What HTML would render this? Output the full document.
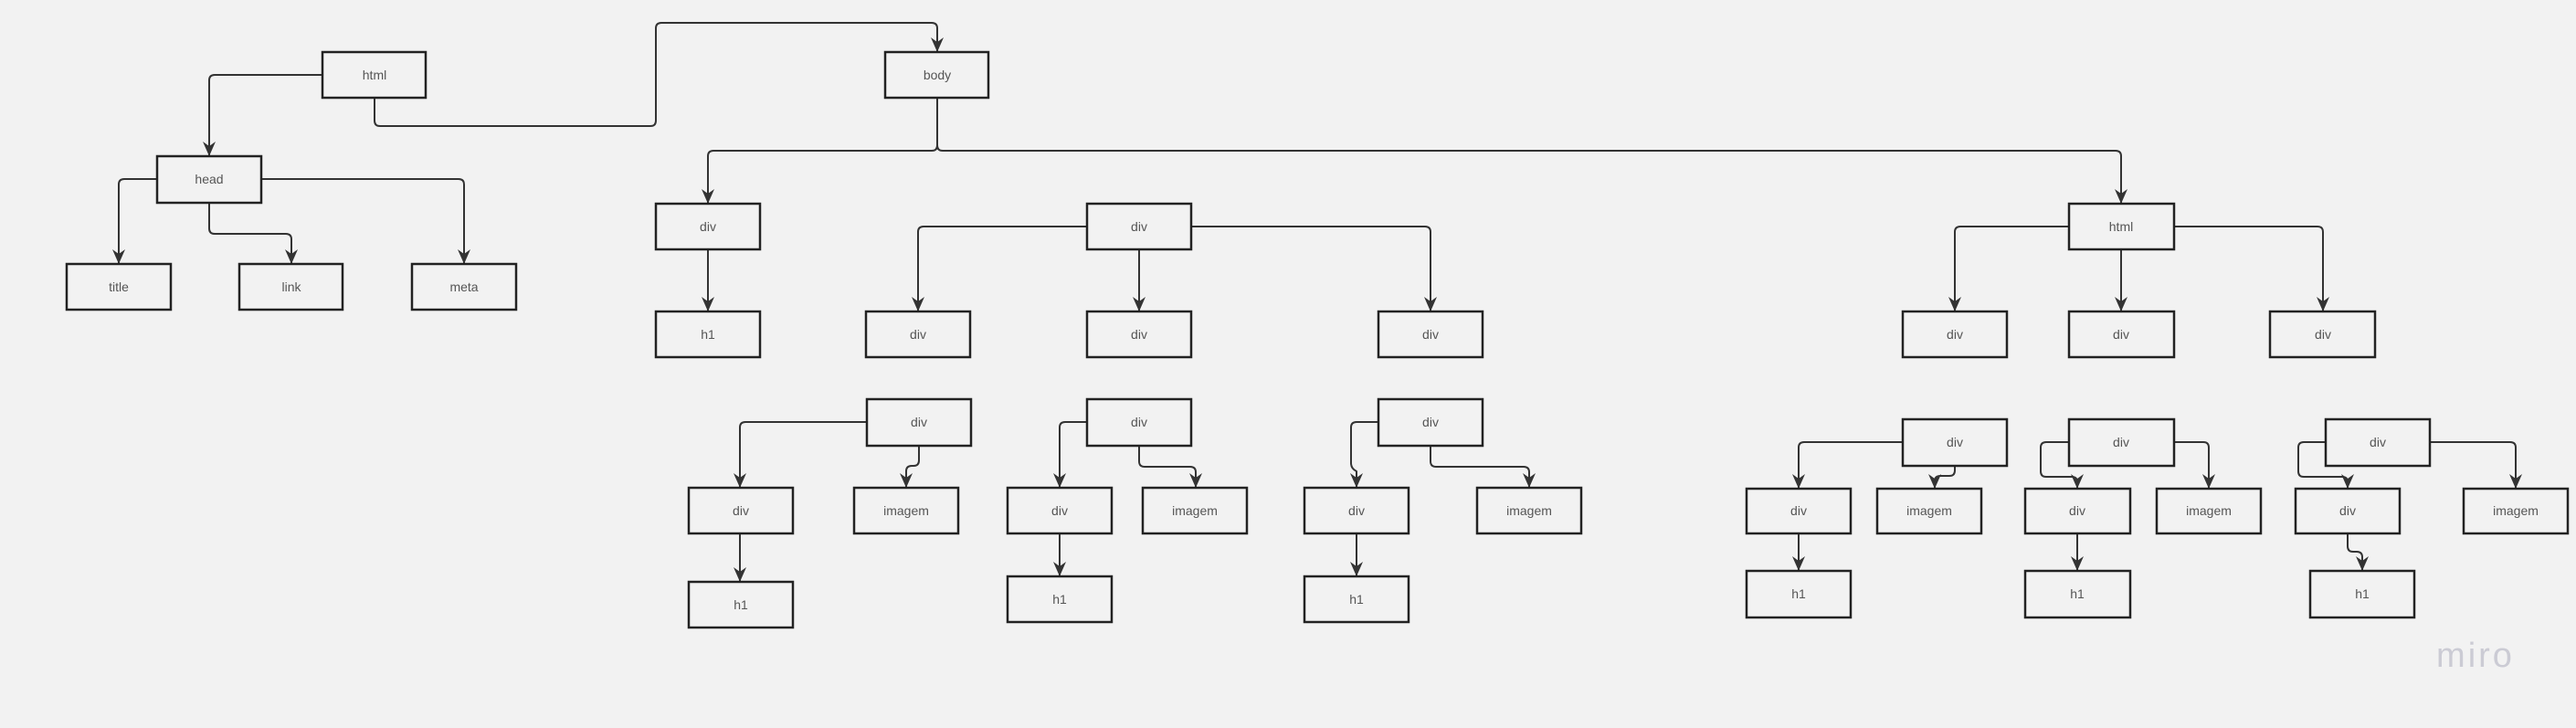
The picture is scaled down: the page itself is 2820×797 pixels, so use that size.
<!DOCTYPE html>
<html><head><meta charset="utf-8"><style>
html,body{margin:0;padding:0;background:#f2f2f2;}
svg{display:block;}
text{font-family:"Liberation Sans",sans-serif;font-size:14px;fill:#555;text-anchor:middle;dominant-baseline:central;}
.b{fill:#f2f2f2;stroke:#222;stroke-width:2.5;}
.c{fill:none;stroke:#333;stroke-width:2;stroke-linejoin:round;}
</style></head><body>
<svg width="2820" height="797" viewBox="0 0 2820 797" xmlns="http://www.w3.org/2000/svg">
<defs><marker id="a" markerWidth="14" markerHeight="16" refX="7" refY="15" orient="0" markerUnits="userSpaceOnUse"><path d="M0,0 L7,5 L14,0 L7,16 Z" fill="#333"/></marker></defs>
<g class="c" marker-end="url(#a)">
<path d="M353,82 H235 Q229,82 229,88 V170"/>
<path d="M410,107 V132 Q410,138 416,138 H712 Q718,138 718,132 V31 Q718,25 724,25 H1020 Q1026,25 1026,31 V56"/>
<path d="M1026,107 V159 Q1026,165 1020,165 H781 Q775,165 775,171 V222"/>
<path d="M1026,107 V159 Q1026,165 1032,165 H2316 Q2322,165 2322,171 V222"/>
<path d="M172,196 H136 Q130,196 130,202 V288"/>
<path d="M229,222 V250 Q229,256 235,256 H313 Q319,256 319,262 V288"/>
<path d="M286,196 H502 Q508,196 508,202 V288"/>
<path d="M775,273 V340"/>
<path d="M1190,248 H1011 Q1005,248 1005,254 V340"/>
<path d="M1247,273 V340"/>
<path d="M1304,248 H1560 Q1566,248 1566,254 V340"/>
<path d="M2265,248 H2146 Q2140,248 2140,254 V340"/>
<path d="M2322,273 V340"/>
<path d="M2380,248 H2537 Q2543,248 2543,254 V340"/>
<path d="M949,462 H816 Q810,462 810,468 V533"/>
<path d="M1006,488 V504 Q1006,510 1000,510 H998 Q992,510 992,516 V533"/>
<path d="M810,584 V636"/>
<path d="M1190,462 H1166 Q1160,462 1160,468 V533"/>
<path d="M1247,488 V505 Q1247,511 1253,511 H1303 Q1309,511 1309,517 V533"/>
<path d="M1160,584 V630"/>
<path d="M1509,462 H1485 Q1479,462 1479,468 V507 Q1479,513 1485,516 V533"/>
<path d="M1566,488 V505 Q1566,511 1572,511 H1668 Q1674,511 1674,517 V533"/>
<path d="M1485,584 V630"/>
<path d="M2083,484 H1975 Q1969,484 1969,490 V534"/>
<path d="M2140,510 V515 Q2140,521 2134,521 H2124 Q2118,521 2118,527 V534"/>
<path d="M1969,584 V624"/>
<path d="M2265,484 H2240 Q2234,484 2234,490 V516 Q2234,522 2240,522 H2268 Q2274,522 2274,528 V534"/>
<path d="M2380,484 H2412 Q2418,484 2418,490 V534"/>
<path d="M2274,584 V624"/>
<path d="M2546,484 H2522 Q2516,484 2516,490 V516 Q2516,522 2522,522 H2564 Q2570,522 2570,528 V534"/>
<path d="M2660,484 H2748 Q2754,484 2754,490 V534"/>
<path d="M2570,584 V598 Q2570,604 2576,604 H2580 Q2586,604 2586,610 V624"/>
</g>
<g>
<rect class="b" x="353" y="57" width="113" height="50"/><text x="410" y="82">html</text>
<rect class="b" x="969" y="57" width="113" height="50"/><text x="1026" y="82">body</text>
<rect class="b" x="172" y="171" width="114" height="51"/><text x="229" y="196">head</text>
<rect class="b" x="73" y="289" width="114" height="50"/><text x="130" y="314">title</text>
<rect class="b" x="262" y="289" width="113" height="50"/><text x="319" y="314">link</text>
<rect class="b" x="451" y="289" width="114" height="50"/><text x="508" y="314">meta</text>
<rect class="b" x="718" y="223" width="114" height="50"/><text x="775" y="248">div</text>
<rect class="b" x="718" y="341" width="114" height="50"/><text x="775" y="366">h1</text>
<rect class="b" x="1190" y="223" width="114" height="50"/><text x="1247" y="248">div</text>
<rect class="b" x="948" y="341" width="114" height="50"/><text x="1005" y="366">div</text>
<rect class="b" x="1190" y="341" width="114" height="50"/><text x="1247" y="366">div</text>
<rect class="b" x="1509" y="341" width="114" height="50"/><text x="1566" y="366">div</text>
<rect class="b" x="2265" y="223" width="115" height="50"/><text x="2322" y="248">html</text>
<rect class="b" x="2083" y="341" width="114" height="50"/><text x="2140" y="366">div</text>
<rect class="b" x="2265" y="341" width="115" height="50"/><text x="2322" y="366">div</text>
<rect class="b" x="2485" y="341" width="115" height="50"/><text x="2543" y="366">div</text>
<rect class="b" x="949" y="437" width="114" height="51"/><text x="1006" y="462">div</text>
<rect class="b" x="754" y="534" width="114" height="50"/><text x="811" y="559">div</text>
<rect class="b" x="935" y="534" width="114" height="50"/><text x="992" y="559">imagem</text>
<rect class="b" x="754" y="637" width="114" height="50"/><text x="811" y="662">h1</text>
<rect class="b" x="1190" y="437" width="114" height="51"/><text x="1247" y="462">div</text>
<rect class="b" x="1103" y="534" width="114" height="50"/><text x="1160" y="559">div</text>
<rect class="b" x="1251" y="534" width="114" height="50"/><text x="1308" y="559">imagem</text>
<rect class="b" x="1103" y="631" width="114" height="50"/><text x="1160" y="656">h1</text>
<rect class="b" x="1509" y="437" width="114" height="51"/><text x="1566" y="462">div</text>
<rect class="b" x="1428" y="534" width="114" height="50"/><text x="1485" y="559">div</text>
<rect class="b" x="1617" y="534" width="114" height="50"/><text x="1674" y="559">imagem</text>
<rect class="b" x="1428" y="631" width="114" height="50"/><text x="1485" y="656">h1</text>
<rect class="b" x="2083" y="459" width="114" height="51"/><text x="2140" y="484">div</text>
<rect class="b" x="1912" y="535" width="114" height="49"/><text x="1969" y="559">div</text>
<rect class="b" x="2055" y="535" width="114" height="49"/><text x="2112" y="559">imagem</text>
<rect class="b" x="1912" y="625" width="114" height="51"/><text x="1969" y="650">h1</text>
<rect class="b" x="2265" y="459" width="115" height="51"/><text x="2322" y="484">div</text>
<rect class="b" x="2217" y="535" width="115" height="49"/><text x="2274" y="559">div</text>
<rect class="b" x="2361" y="535" width="114" height="49"/><text x="2418" y="559">imagem</text>
<rect class="b" x="2217" y="625" width="115" height="51"/><text x="2274" y="650">h1</text>
<rect class="b" x="2546" y="459" width="114" height="51"/><text x="2603" y="484">div</text>
<rect class="b" x="2513" y="535" width="114" height="49"/><text x="2570" y="559">div</text>
<rect class="b" x="2697" y="535" width="114" height="49"/><text x="2754" y="559">imagem</text>
<rect class="b" x="2529" y="625" width="114" height="51"/><text x="2586" y="650">h1</text>
</g>
<text x="2710" y="718" style="font-size:38px;fill:#cbcbd4;letter-spacing:3px;">miro</text>
</svg>
</body></html>
